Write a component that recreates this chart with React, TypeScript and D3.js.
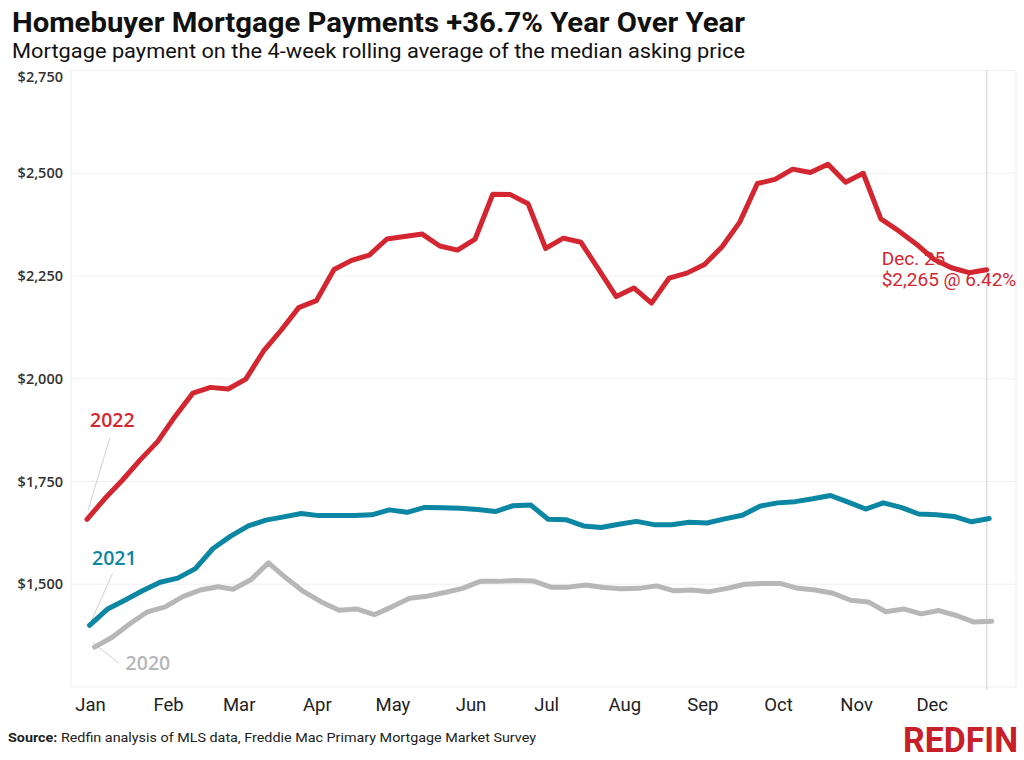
import * as d3 from "d3";

const W = 1024;
const H = 760;

const months = ["Jan", "Feb", "Mar", "Apr", "May", "Jun", "Jul", "Aug", "Sep", "Oct", "Nov", "Dec"];
const yTicks = [2750, 2500, 2250, 2000, 1750, 1500];

// weekly mortgage payment
const pay2022 = [
  1658, 1708, 1753, 1802, 1847, 1909, 1965, 1979, 1975, 1999, 2067, 2118, 2173,
  2190, 2266, 2288, 2301, 2340, 2346, 2352, 2323, 2313, 2340, 2449, 2448, 2426,
  2317, 2342, 2332, 2266, 2200, 2221, 2184, 2245, 2257, 2278, 2321, 2381, 2475,
  2485, 2510, 2502, 2522, 2478, 2500, 2389, 2360, 2328, 2291, 2270, 2258, 2265,
];
const pay2021 = [
  1400, 1439, 1461, 1484, 1505, 1515, 1538, 1587, 1617, 1642, 1656, 1664, 1672,
  1667, 1667, 1667, 1669, 1681, 1675, 1687, 1686, 1685, 1682, 1677, 1691, 1693,
  1658, 1657, 1642, 1638, 1646, 1653, 1645, 1645, 1651, 1649, 1659, 1668, 1690,
  1698, 1701, 1708, 1716, 1700, 1683, 1698, 1687, 1671, 1669, 1665, 1652, 1660,
];
const pay2020 = [
  1347, 1371, 1404, 1433, 1445, 1470, 1486, 1494, 1488, 1511, 1552, 1515, 1482,
  1457, 1437, 1440, 1426, 1445, 1466, 1471, 1480, 1490, 1507, 1507, 1509, 1508,
  1493, 1493, 1498, 1492, 1489, 1490, 1496, 1484, 1486, 1482, 1490, 1500, 1502,
  1502, 1490, 1486, 1478, 1461, 1457, 1433, 1440, 1428, 1436, 1424, 1408, 1410,
];

const RED = "#d42630";
const TEAL = "#0b86a3";
const GRAY = "#b7b7b7";

const series = [
  { name: "2020", start: "2020-01-05", values: pay2020, color: GRAY },
  { name: "2021", start: "2021-01-03", values: pay2021, color: TEAL },
  { name: "2022", start: "2022-01-02", values: pay2022, color: RED },
];

const parse = d3.timeParse("%Y-%m-%d");

export default function App() {
  const x = d3
    .scaleTime()
    .domain([new Date(2022, 0, 1), new Date(2022, 11, 25)])
    .range([84.5, 986.7]);
  const y = d3.scaleLinear().domain([1250, 2750]).range([687, 70.5]);

  const left = 71;
  const right = 1016;

  // put every year on the same calendar
  const points = (s: (typeof series)[number]) => {
    const s0 = parse(s.start)!;
    return s.values.map((v, i) => {
      const d = d3.timeDay.offset(s0, 7 * i);
      return [x(new Date(2022, d.getMonth(), d.getDate())), y(v)] as [number, number];
    });
  };

  const line = d3.line<[number, number]>();
  const pts: Record<string, [number, number][]> = {};
  series.forEach((s) => (pts[s.name] = points(s)));

  const p22 = pts["2022"][0];
  const p21 = pts["2021"][0];
  const p20 = pts["2020"][0];
  const last = pts["2022"][pts["2022"].length - 1];

  return (
    <svg
      width={W}
      height={H}
      style={{ position: "absolute", left: 0, top: 0, background: "#fff" }}
    >
      <rect width={W} height={H} fill="#fff" />

      <text
        x={12}
        y={32}
        fontFamily="Roboto"
        fontWeight={700}
        fontSize={28}
        fill="#111"
        textLength={733}
        lengthAdjust="spacingAndGlyphs"
      >
        Homebuyer Mortgage Payments +36.7% Year Over Year
      </text>
      <text
        x={12}
        y={58}
        fontFamily="Roboto"
        fontSize={20.5}
        fill="#111"
        textLength={733}
        lengthAdjust="spacingAndGlyphs"
      >
        Mortgage payment on the 4-week rolling average of the median asking price
      </text>

      {/* grid */}
      {[1250, ...yTicks].map((t) => (
        <line key={t} x1={left} x2={right} y1={y(t)} y2={y(t)} stroke="#f0f0f0" strokeWidth={1.2} />
      ))}
      <line x1={left} x2={left} y1={y(2750)} y2={y(1250)} stroke="#f0f0f0" strokeWidth={1.2} />
      <line x1={right} x2={right} y1={y(2750)} y2={y(1250)} stroke="#f0f0f0" strokeWidth={1.2} />
      <line x1={last[0]} x2={last[0]} y1={y(2750)} y2={y(1250) + 3} stroke="#dedede" strokeWidth={1.5} />

      {yTicks.map((t) => (
        <text
          key={t}
          x={63}
          y={y(t) + (t === 2750 ? 6 : 0)}
          dy="0.36em"
          textAnchor="end"
          fontFamily="Open Sans"
          fontWeight={600}
          fontSize={14.5}
          fill="#333"
        >
          {d3.format("$,")(t)}
        </text>
      ))}

      {months.map((m, i) => (
        <text
          key={m}
          x={x(new Date(2022, i, 1)) + 6}
          y={711}
          textAnchor="middle"
          fontFamily="Roboto"
          fontSize={18.5}
          fill="#222"
        >
          {m}
        </text>
      ))}

      {/* end-point annotation, sits under the red line */}
      <g fontFamily="Roboto" fontSize={19} fill={RED}>
        <text x={last[0] - 105} y={last[1] - 5}>
          Dec. 25
        </text>
        <text x={last[0] - 105} y={last[1] + 16}>
          $2,265 @ 6.42%
        </text>
      </g>

      {/* leader lines */}
      <g stroke="#d0d0d0" strokeWidth={1}>
        <line x1={p22[0] + 1} y1={p22[1] - 9} x2={p22[0] + 23} y2={p22[1] - 82} />
        <line x1={p21[0] + 2} y1={p21[1] - 5} x2={p21[0] + 23} y2={p21[1] - 52} />
        <line x1={p20[0] - 2} y1={p20[1] - 5} x2={p20[0] + 24} y2={p20[1] + 16} />
      </g>

      {series.map((s) => (
        <path
          key={s.name}
          d={line(pts[s.name]) || ""}
          fill="none"
          stroke={s.color}
          strokeWidth={5}
          strokeLinejoin="round"
          strokeLinecap="round"
        />
      ))}

      <g fontFamily="Open Sans" fontWeight={600} fontSize={19.5}>
        <text x={p22[0] + 3} y={p22[1] - 92} fill={RED}>
          2022
        </text>
        <text x={p21[0] + 2.5} y={p21[1] - 60} fill={TEAL}>
          2021
        </text>
        <text x={p20[0] + 31} y={p20[1] + 23} fill={GRAY}>
          2020
        </text>
      </g>

      <text
        x={8}
        y={742}
        fontFamily="Roboto"
        fontSize={13.5}
        fill="#222"
        textLength={528}
        lengthAdjust="spacingAndGlyphs"
      >
        <tspan fontWeight={700}>Source:</tspan> Redfin analysis of MLS data, Freddie Mac Primary Mortgage Market Survey
      </text>

      <text
        x={903}
        y={752}
        fontFamily="Roboto"
        fontWeight={700}
        fontSize={35}
        fill="#c8202a"
        textLength={115}
        lengthAdjust="spacingAndGlyphs"
      >
        REDFIN
      </text>
    </svg>
  );
}
